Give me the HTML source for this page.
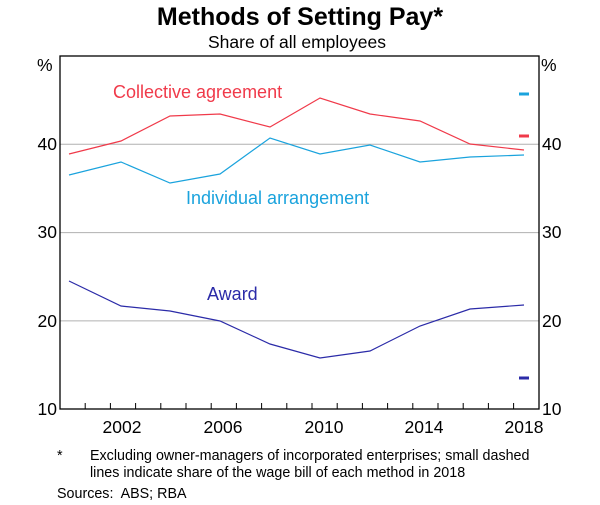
<!DOCTYPE html>
<html><head><meta charset="utf-8"><style>
body{margin:0;background:#fff}
svg{display:block;font-family:"Liberation Sans",Arial,sans-serif}
</style></head><body>
<svg width="600" height="505" viewBox="0 0 600 505">
<text x="300" y="25" text-anchor="middle" font-size="25" font-weight="bold">Methods of Setting Pay*</text>
<text x="297" y="48" text-anchor="middle" font-size="17.5">Share of all employees</text>
<g stroke="#b0b0b0" stroke-width="1">
<line x1="60" y1="144.3" x2="539" y2="144.3"/>
<line x1="60" y1="232.6" x2="539" y2="232.6"/>
<line x1="60" y1="320.9" x2="539" y2="320.9"/>
</g>
<rect x="60" y="56" width="479" height="353" fill="none" stroke="#000" stroke-width="1.3"/>
<g stroke="#000" stroke-width="1">
<path d="M85.2 409v-6M110.4 409v-6M135.6 409v-6M160.8 409v-6M186 409v-6M211.2 409v-6M236.4 409v-6M261.6 409v-6M286.8 409v-6M312 409v-6M337.2 409v-6M362.4 409v-6M387.6 409v-6M412.8 409v-6M438 409v-6M463.2 409v-6M488.4 409v-6M513.6 409v-6"/>
</g>
<g font-size="17.5" fill="#000">
<text x="37" y="71">%</text>
<text x="541" y="71">%</text>
<text x="57" y="150" text-anchor="end">40</text>
<text x="57" y="238" text-anchor="end">30</text>
<text x="57" y="327" text-anchor="end">20</text>
<text x="57" y="415" text-anchor="end">10</text>
<text x="542" y="150">40</text>
<text x="542" y="238">30</text>
<text x="542" y="327">20</text>
<text x="542" y="415">10</text>
<text x="122" y="433" text-anchor="middle">2002</text>
<text x="223" y="433" text-anchor="middle">2006</text>
<text x="324" y="433" text-anchor="middle">2010</text>
<text x="424" y="433" text-anchor="middle">2014</text>
<text x="524" y="433" text-anchor="middle">2018</text>
</g>
<g fill="none" stroke-width="1.2">
<polyline stroke="#f03a4a" points="69,154 121,141 170,116 220,114 270,127 320,98 370,114 420,121 470,144 524,150"/>
<polyline stroke="#1aa3dd" points="69,175 121,162 170,183 220,174 270,138 320,154 370,145 420,162 470,157 524,155"/>
<polyline stroke="#2b2ba8" points="69,281 121,306 170,311 220,321 270,344 320,358 370,351 420,326 470,309 524,305"/>
</g>
<g stroke-width="3">
<line x1="519" y1="94" x2="529" y2="94" stroke="#1aa3dd"/>
<line x1="519" y1="136" x2="529" y2="136" stroke="#f03a4a"/>
<line x1="519" y1="378" x2="529" y2="378" stroke="#2b2ba8"/>
</g>
<text x="113" y="98" font-size="18" fill="#f03a4a">Collective agreement</text>
<text x="186" y="204" font-size="18" fill="#1aa3dd">Individual arrangement</text>
<text x="207" y="300" font-size="18" fill="#2b2ba8">Award</text>
<g font-size="14.3" fill="#000">
<text x="57" y="460">*</text>
<text x="90" y="460">Excluding owner-managers of incorporated enterprises; small dashed</text>
<text x="90" y="477">lines indicate share of the wage bill of each method in 2018</text>
<text x="57" y="498" xml:space="preserve">Sources:  ABS; RBA</text>
</g>
</svg>
</body></html>
